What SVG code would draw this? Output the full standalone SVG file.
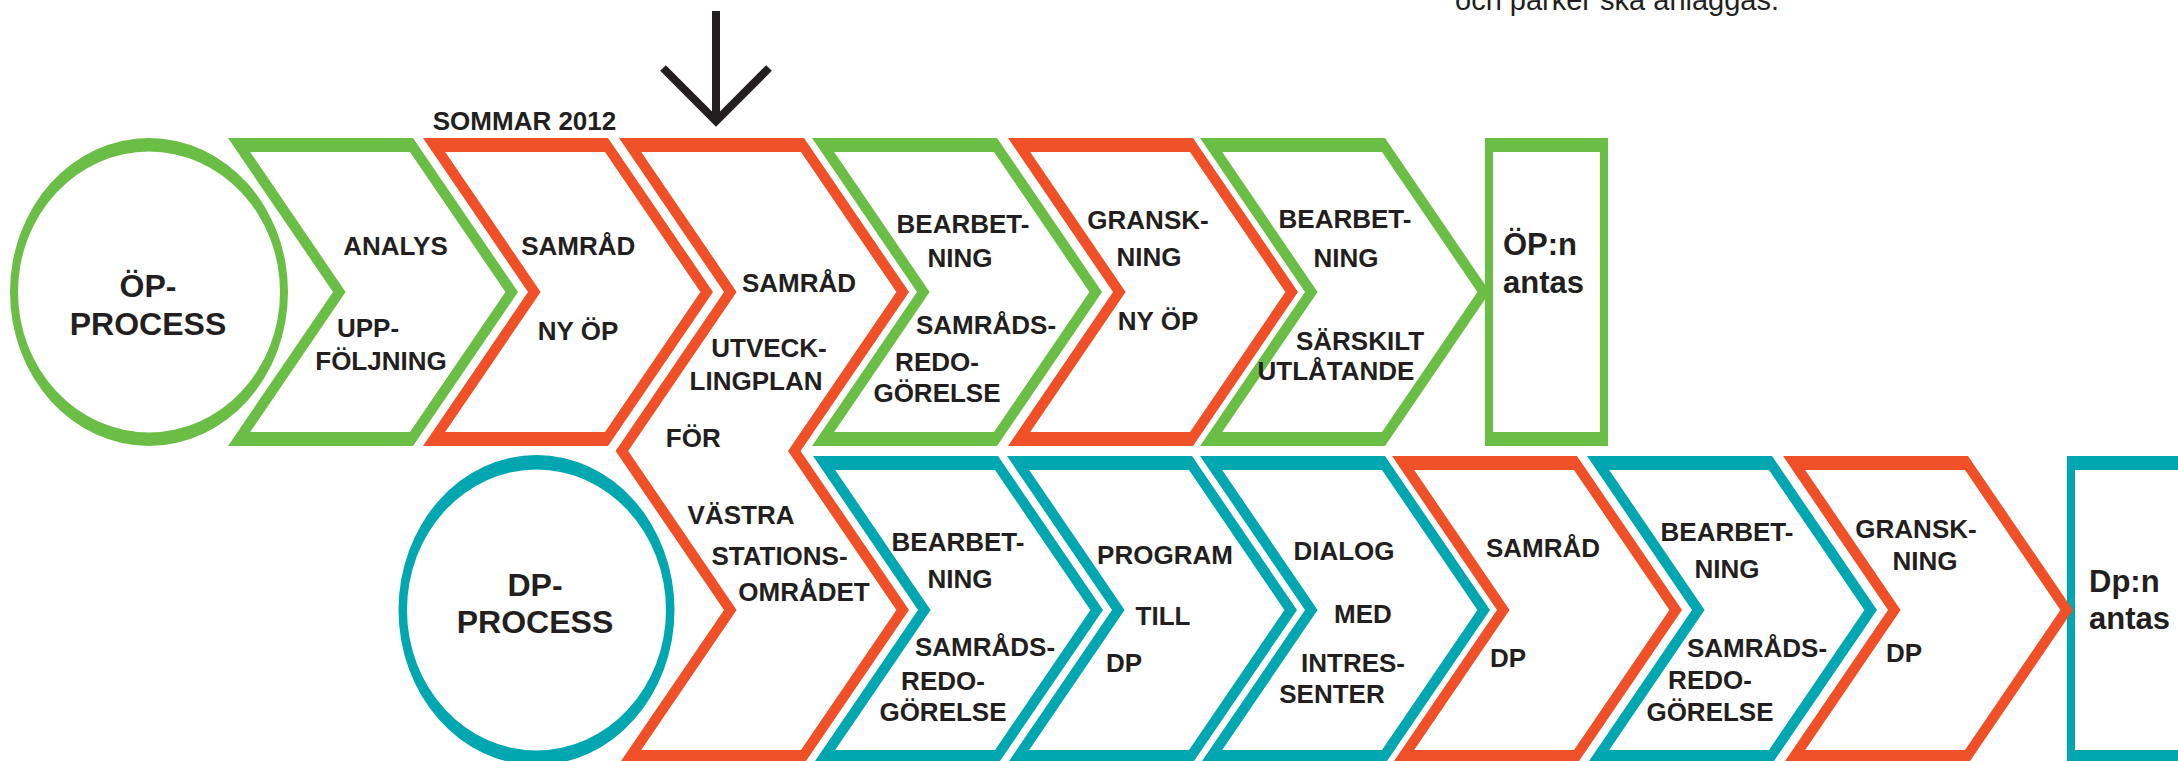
<svg xmlns="http://www.w3.org/2000/svg" width="2178" height="761" viewBox="0 0 2178 761">
<style>
.g{fill:#6abd45;fill-rule:evenodd}
.r{fill:#ef5028;fill-rule:evenodd}
.t{fill:#00a7b0;fill-rule:evenodd}
.l{font-family:"Liberation Sans",Arial,sans-serif;font-weight:bold;font-size:26px;fill:#231f20;text-anchor:middle}
.big{font-family:"Liberation Sans",Arial,sans-serif;font-weight:bold;font-size:32px;fill:#231f20;text-anchor:middle}
.end{font-family:"Liberation Sans",Arial,sans-serif;font-weight:bold;font-size:31px;fill:#231f20}
.note{font-family:"Liberation Sans",Arial,sans-serif;font-size:29px;fill:#231f20}
.arr{fill:none;stroke:#231f20;stroke-width:8;stroke-linejoin:miter}
</style>
<rect width="2178" height="761" fill="#ffffff"/>
<text class="note" x="1455" y="10">och parker ska anläggas.</text>
<text class="l" x="524.5" y="129.5">SOMMAR 2012</text>

<g id="op-process">
<path class="g" d="M10 292a139 154 0 1 0 278 0a139 154 0 1 0 -278 0Z M18 292a131 140.5 0 1 0 262 0a131 140.5 0 1 0 -262 0Z"/>
<text class="big" x="148" y="297">ÖP-</text>
<text class="big" x="148" y="335">PROCESS</text>
</g>

<g id="op-analys">
<path class="g" d="M228 138L413 138L518 292L413 446L228 446L333 292Z M250.2 152L345.6 292L250.2 432L410 432L505.4 292L410 152Z"/>
<text class="l" x="395.5" y="255">ANALYS</text>
<text class="l" x="368" y="337">UPP-</text>
<text class="l" x="381" y="370">FÖLJNING</text>
</g>

<g id="op-samrad">
<path class="r" d="M423 138L608 138L713 292L608 446L423 446L528 292Z M445.2 152L540.6 292L445.2 432L605 432L700.4 292L605 152Z"/>
<text class="l" x="578.3" y="255">SAMRÅD</text>
<text class="l" x="578" y="340">NY ÖP</text>
</g>

<g id="utvecklingsplan">
<path class="r" d="M619 138L804 138L909 292L800.6 451L909 610L804 764L619 764L724 610L615.6 451L724 292Z M641.2 152L736.6 292L628.2 451L736.6 610L641.2 750L801 750L896.4 610L788 451L896.4 292L801 152Z"/>
<text class="l" x="799" y="292">SAMRÅD</text>
<text class="l" x="769" y="357">UTVECK-</text>
<text class="l" x="756" y="390">LINGPLAN</text>
<text class="l" x="693.3" y="447">FÖR</text>
<text class="l" x="741" y="524">VÄSTRA</text>
<text class="l" x="779.5" y="565">STATIONS-</text>
<text class="l" x="804" y="601">OMRÅDET</text>
</g>

<g id="op-bearbetning1">
<path class="g" d="M812 138L997 138L1102 292L997 446L812 446L917 292Z M834.2 152L929.6 292L834.2 432L994 432L1089.4 292L994 152Z"/>
<text class="l" x="963" y="233">BEARBET-</text>
<text class="l" x="960" y="267">NING</text>
<text class="l" x="986" y="334">SAMRÅDS-</text>
<text class="l" x="937" y="371">REDO-</text>
<text class="l" x="937" y="402">GÖRELSE</text>
</g>

<g id="op-granskning">
<path class="r" d="M1008 138L1193 138L1298 292L1193 446L1008 446L1113 292Z M1030.2 152L1125.6 292L1030.2 432L1190 432L1285.4 292L1190 152Z"/>
<text class="l" x="1148" y="229">GRANSK-</text>
<text class="l" x="1149" y="266">NING</text>
<text class="l" x="1158" y="330">NY ÖP</text>
</g>

<g id="op-bearbetning2">
<path class="g" d="M1200 138L1385 138L1490 292L1385 446L1200 446L1305 292Z M1222.2 152L1317.6 292L1222.2 432L1382 432L1477.4 292L1382 152Z"/>
<text class="l" x="1345" y="228">BEARBET-</text>
<text class="l" x="1346" y="267">NING</text>
<text class="l" x="1360" y="350">SÄRSKILT</text>
<text class="l" x="1336" y="380">UTLÅTANDE</text>
</g>

<g id="op-antas">
<path class="g" d="M1485 138H1608V446H1485Z M1493 152V432H1600V152Z"/>
<text class="end" x="1503" y="255">ÖP:n</text>
<text class="end" x="1503" y="293">antas</text>
</g>

<g id="dp-process">
<path class="t" d="M398.5 610a138 155 0 1 0 276 0a138 155 0 1 0 -276 0Z M407 610a129.5 140.5 0 1 0 259 0a129.5 140.5 0 1 0 -259 0Z"/>
<text class="big" x="535" y="596">DP-</text>
<text class="big" x="535" y="633">PROCESS</text>
</g>

<g id="dp-bearbetning1">
<path class="t" d="M813 456L998 456L1103 610L998 764L813 764L918 610Z M835.2 470L930.6 610L835.2 750L995 750L1090.4 610L995 470Z"/>
<text class="l" x="958" y="551">BEARBET-</text>
<text class="l" x="960" y="588">NING</text>
<text class="l" x="985" y="656">SAMRÅDS-</text>
<text class="l" x="943" y="690">REDO-</text>
<text class="l" x="943" y="721">GÖRELSE</text>
</g>

<g id="dp-program">
<path class="t" d="M1007 456L1192 456L1297 610L1192 764L1007 764L1112 610Z M1029.2 470L1124.6 610L1029.2 750L1189 750L1284.4 610L1189 470Z"/>
<text class="l" x="1165" y="564">PROGRAM</text>
<text class="l" x="1163" y="625">TILL</text>
<text class="l" x="1124" y="672">DP</text>
</g>

<g id="dp-dialog">
<path class="t" d="M1200 456L1385 456L1490 610L1385 764L1200 764L1305 610Z M1222.2 470L1317.6 610L1222.2 750L1382 750L1477.4 610L1382 470Z"/>
<text class="l" x="1344" y="560">DIALOG</text>
<text class="l" x="1363" y="623">MED</text>
<text class="l" x="1353" y="672">INTRES-</text>
<text class="l" x="1332" y="703">SENTER</text>
</g>

<g id="dp-samrad">
<path class="r" d="M1392 456L1577 456L1682 610L1577 764L1392 764L1497 610Z M1414.2 470L1509.6 610L1414.2 750L1574 750L1669.4 610L1574 470Z"/>
<text class="l" x="1543" y="557">SAMRÅD</text>
<text class="l" x="1508" y="667">DP</text>
</g>

<g id="dp-bearbetning2">
<path class="t" d="M1587 456L1772 456L1877 610L1772 764L1587 764L1692 610Z M1609.2 470L1704.6 610L1609.2 750L1769 750L1864.4 610L1769 470Z"/>
<text class="l" x="1727" y="541">BEARBET-</text>
<text class="l" x="1727" y="578">NING</text>
<text class="l" x="1757" y="657">SAMRÅDS-</text>
<text class="l" x="1710" y="689">REDO-</text>
<text class="l" x="1710" y="721">GÖRELSE</text>
</g>

<g id="dp-antas">
<path class="t" d="M2067 456H2200V764H2067Z M2075 470V750H2192V470Z"/>
<text class="end" x="2089" y="592">Dp:n</text>
<text class="end" x="2089" y="629">antas</text>
</g>

<g id="dp-granskning">
<path class="r" d="M1783 456L1968 456L2073 610L1968 764L1783 764L1888 610Z M1805.2 470L1900.6 610L1805.2 750L1965 750L2060.4 610L1965 470Z"/>
<text class="l" x="1916" y="538">GRANSK-</text>
<text class="l" x="1925" y="570">NING</text>
<text class="l" x="1904" y="662">DP</text>
</g>

<g id="connectors">
<line class="arr" x1="716" y1="11" x2="716" y2="121"/>
<polyline class="arr" points="663,68 716,121 769,68"/>
</g>
</svg>
